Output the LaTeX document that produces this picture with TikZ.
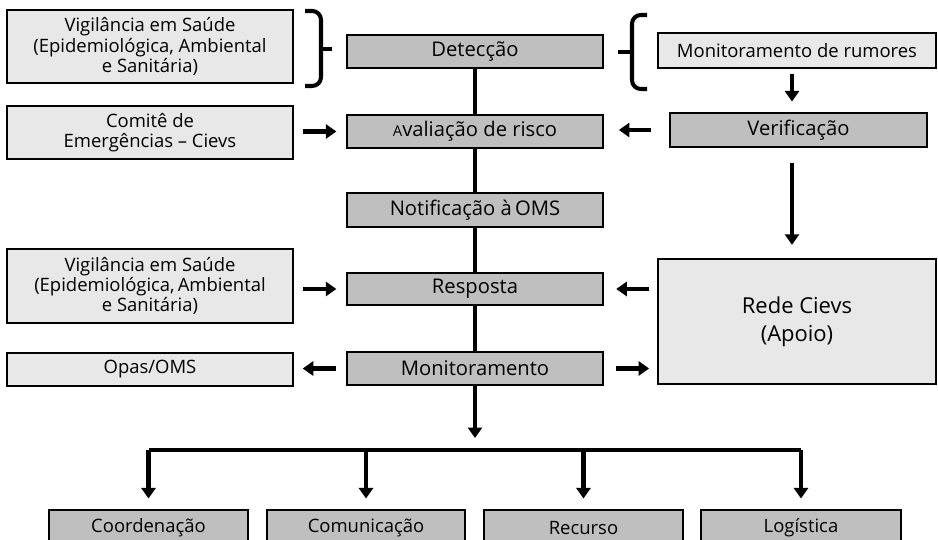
\documentclass[tikz,border=0pt]{standalone}
\usepackage{fontspec}
\setmainfont{Open Sans}
\usetikzlibrary{arrows.meta}

\definecolor{boxdark}{gray}{0.75}
\definecolor{boxlight}{gray}{0.91}

\begin{document}
\begin{tikzpicture}[x=0.02cm,y=-0.02cm,
	every node/.style={font=\fontsize{10.5}{11.6}\selectfont},
	stage/.style={draw,line width=1.1pt,fill=boxdark,inner sep=0pt,minimum width=5.12cm,minimum height=0.66cm,font=\fontsize{11.5}{13}\selectfont},
	side/.style={draw,line width=1.1pt,fill=boxlight,inner sep=0pt,align=center,minimum width=5.72cm},
	action/.style={draw,line width=1.1pt,fill=boxdark,inner sep=0pt,minimum height=0.72cm,font=\fontsize{10.5}{12}\selectfont},
	link/.style={line width=2.3pt},
	>={Triangle[width=8pt,length=6pt]}]
	\useasboundingbox (0,0) rectangle (938,540);
	%\draw[help lines] (0,0) grid[step=1cm] (938,540);

	% central column
	\node[stage] (det) at (475,51.5) {Detecção};
	\node[stage] (aval) at (475,131.5) {{\fontsize{8.5}{9}\selectfont A}valiação de risco};
	\node[stage,minimum height=0.68cm] (notif) at (475,210) {Notificação à\,OMS};
	\node[stage,minimum height=0.64cm] (resp) at (475,289) {Resposta};
	\node[stage] (mon) at (475,368.5) {Monitoramento};
	\draw[link] (det)--(aval);
	\draw[link] (aval)--(notif);
	\draw[link] (notif)--(resp);
	\draw[link] (resp)--(mon);

	% left column
	\node[side,minimum height=1.46cm] (vig) at (150,46.5) {Vigilância em Saúde\\(Epidemiológica, Ambiental\\e Sanitária)};
	\node[side,minimum height=1.06cm] (com) at (150,132.5) {Comitê de\\Emergências -- Cievs};
	\node[side,minimum height=1.48cm] (vigr) at (150,286) {Vigilância em Saúde\\(Epidemiológica,\,Ambiental\\e Sanitária)};
	\node[side,minimum height=0.66cm] (opas) at (150,369.5) {Opas/OMS};
	\draw[link,->,shorten <=5pt,shorten >=5.5pt] (com.east |- aval)--(aval.west);
	\draw[link,->,shorten <=5pt,shorten >=5.5pt] (vigr.east |- resp)--(resp.west);
	\draw[link,->,shorten <=5.5pt,shorten >=5pt] (mon.west)--(opas.east |- mon);

	% brackets
	\coordinate (lbtop) at (305,11);
	\coordinate (lbbot) at (305,86);
	\coordinate (lbtip) at (332,49);
	\draw[link,rounded corners=5pt] (lbtop)--(321,11)--(321,86)--(lbbot);
	\draw[link] (321,49)--(lbtip);
	\coordinate (rbtop) at (647,15);
	\coordinate (rbbot) at (647,89);
	\coordinate (rbtip) at (618,52);
	\draw[link,rounded corners=5pt] (rbtop)--(632,15)--(632,89)--(rbbot);
	\draw[link] (632,52)--(rbtip);

	% right column
	\node[side,minimum width=5.56cm,minimum height=0.7cm] (rum) at (797,50.5) {Monitoramento de rumores};
	\node[stage,minimum width=5.14cm,minimum height=0.68cm] (ver) at (798.5,130) {Verificação};
	\node[side,minimum width=5.56cm,minimum height=2.5cm,font=\fontsize{12.5}{16}\selectfont] (rede) at (797,321.5) {Rede Cievs\\(Apoio)};
	\draw[link,->,shorten <=3pt,shorten >=6pt] (rum.south -| 792,0)--(ver.north -| 792,0);
	\draw[link,->,shorten <=10pt,shorten >=8.5pt] (ver.west)--(aval.east |- ver);
	\draw[link,->,shorten <=8.5pt,shorten >=7.5pt] (ver.south -| 792,0)--(rede.north -| 792,0);
	\draw[link,->,shorten <=4.5pt,shorten >=7pt] (rede.west |- resp)--(resp.east);
	\draw[link,->,shorten <=7pt,shorten >=4.5pt] (mon.east)--(rede.west |- mon);

	% actions
	\node[action,minimum width=3.98cm] (coord) at (148.5,528) {Coordenação};
	\node[action,minimum width=3.96cm] (comu) at (366,528) {Comunicação};
	\node[action,minimum width=3.98cm] (rec) at (583.5,528) {Recurso};
	\node[action,minimum width=4cm] (log) at (801,528) {Logística};
	\coordinate (split) at (475,450);
	\coordinate (barl) at (coord |- split);
	\coordinate (barr) at (log |- split);
	\draw[link,->,shorten >=6.8pt] (mon)--(split);
	\draw[link] (barl)--(barr);
	\foreach \a in {coord,comu,rec,log}
		\draw[link,->,shorten >=6pt] (\a |- split)--(\a.north);
\end{tikzpicture}
\end{document}
